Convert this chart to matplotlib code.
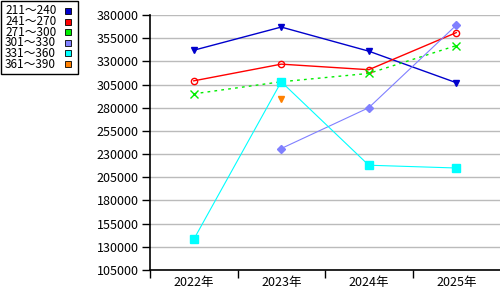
import matplotlib
matplotlib.use("Agg")
import matplotlib.pyplot as plt
from matplotlib.patches import Rectangle

plt.rcParams['font.family'] = ['Noto Sans CJK JP', 'DejaVu Sans']

# data
years = ['2022年', '2023年', '2024年', '2025年']
labels = ['211～240', '241～270', '271～300', '301～330', '331～360', '361～390']
s211 = [342000, 367000, 341000, 307000]
s241 = [309000, 327000, 321000, 361000]
s271 = [295000, 308000, 317000, 347000]
s301 = [None, 236000, 280000, 369000]
s331 = [138000, 308000, 218000, 215000]
s361 = [None, 289000, None, None]
yticks = list(range(105000, 380001, 25000))

colors = ['#0000CC', '#FF0000', '#00EE00', '#8080FF', '#00FFFF', '#FF8000']

W, H = 500, 300
fig = plt.figure(figsize=(5, 3), dpi=100)
ax = fig.add_axes([0.30, 0.10, 0.70, 0.85])

x = range(len(years))

def plot_series(vals, color, marker, ls='-', lw=1.0, ms=5, mfc=None):
    xs = [i for i, v in zip(x, vals) if v is not None]
    ys = [v for v in vals if v is not None]
    ax.plot(xs, ys, color=color, linestyle=ls, linewidth=lw, marker=marker,
            markersize=ms, markerfacecolor=mfc if mfc else color,
            markeredgecolor=color, zorder=3)

plot_series(s211, colors[0], 'v', ms=4)
plot_series(s241, colors[1], 'o', ms=4.5, mfc='none')
plot_series(s271, colors[2], 'x', ls=(0, (2, 3)), ms=6)
plot_series(s301, colors[3], 'D', lw=0.8, ms=4)
plot_series(s331, colors[4], 's', lw=0.8, ms=6)
plot_series(s361, colors[5], 'v', ms=4)

ax.set_xlim(-0.5, 3.5)
ax.set_ylim(105000, 380000)
ax.set_yticks(yticks)
ax.set_yticklabels([str(v) for v in yticks], fontsize=9)
ax.set_xticks([-0.5, 0.5, 1.5, 2.5])
ax.set_xticklabels([])
ax.set_xticks(list(x), minor=True)
ax.set_xticklabels(years, minor=True, fontsize=9)
ax.tick_params(axis='x', which='minor', length=0, pad=4)
ax.tick_params(axis='x', which='major', length=6, width=1)
ax.tick_params(axis='y', length=6, width=1, pad=2)
ax.grid(True, axis='y', color='#BBBBBB', linewidth=1)
for s in ['top', 'right']:
    ax.spines[s].set_visible(False)
for s in ['left', 'bottom']:
    ax.spines[s].set_linewidth(1.2)

# legend box drawn by hand: text on the left, colour square on the right
fig.patches.append(Rectangle((0.5 / W, 1 - 74 / H), 77 / W, 73.5 / H,
                             transform=fig.transFigure, facecolor='white',
                             edgecolor='black', linewidth=1.0))
for i, (lab, c) in enumerate(zip(labels, colors)):
    yc = 11 + i * 10.6
    fig.text(5 / W, 1 - yc / H, lab, fontsize=8.5, ha='left', va='center')
    fig.patches.append(Rectangle((65 / W, 1 - (yc + 3) / H), 6 / W, 6 / H,
                                 transform=fig.transFigure, facecolor=c,
                                 edgecolor='black', linewidth=0.6))

fig.savefig('out.png', dpi=100)
